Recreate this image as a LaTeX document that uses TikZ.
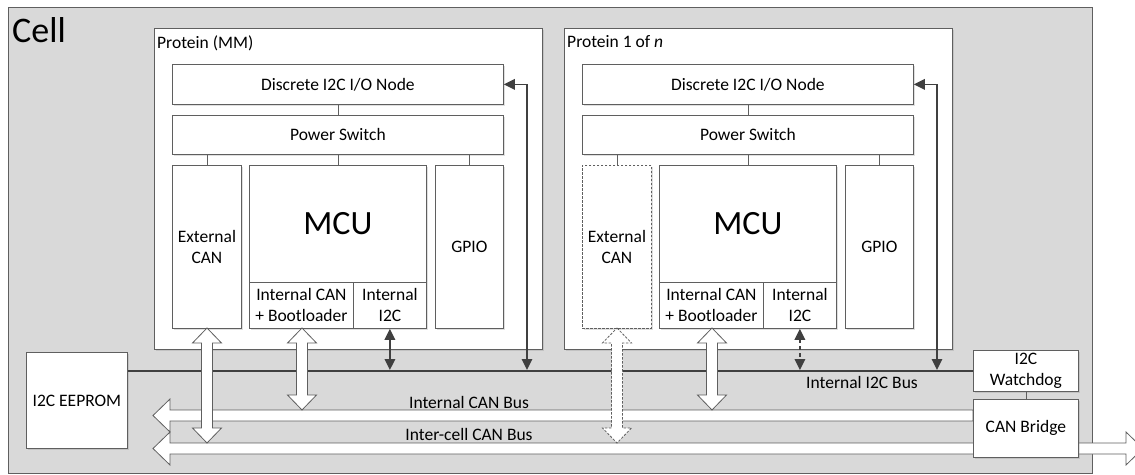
\documentclass[tikz,border=0pt]{standalone}
\usepackage{fontspec}
\setmainfont{Carlito}
\usetikzlibrary{arrows.meta,shadows}

\definecolor{cellgray}{HTML}{D9D9D9}
\definecolor{edgegray}{HTML}{5F5F5F}
\definecolor{busdark}{HTML}{404040}

\newcommand{\cellfont}{\fontsize{36}{40}\selectfont}
\newcommand{\mcufont}{\fontsize{34}{38}\selectfont}

% hollow double arrow between a block and a CAN bus
\newcommand{\canlink}[4][]{%
  \draw[hollow,#1] (#2,#3) -- ++(14.5,15) -- ++(-9,0) -- (#2+5.5,#4-15) -- ++(9,0)
    -- (#2,#4) -- ++(-14.5,-15) -- ++(9,0) -- (#2-5.5,#3+15) -- ++(-9,0) -- cycle;}

\tikzset{
  block/.style={draw=edgegray, fill=white, line width=0.8pt, align=center, inner sep=0pt,
    drop shadow={shadow xshift=1.2pt, shadow yshift=-1.2pt, opacity=0.25}},
  dashedge/.style={dash pattern=on 2.5pt off 1.5pt},
  dashbus/.style={dash pattern=on 4pt off 3pt},
  tie/.style={draw=edgegray, line width=0.8pt},
  hollow/.style={draw=edgegray, fill=white, line width=0.8pt, line join=miter},
  i2cline/.style={draw=busdark, line width=1.6pt},
  i2carrow/.style={i2cline, {Triangle[length=11pt,width=10.5pt]}-{Triangle[length=11pt,width=10.5pt]}},
}

\begin{document}
\begin{tikzpicture}[x=1pt, y=-1pt, font=\fontsize{17.5}{21}\selectfont]
\useasboundingbox (0,0) rectangle (1135,474);

% the cell
\draw[draw=edgegray, fill=cellgray, line width=0.8pt] (8,7) rectangle (1092,473);
\node[anchor=north west, inner sep=0pt, font=\cellfont] (celltitle) at (12,17) {Cell};

% I2C side of the cell
\node[block, anchor=north west, minimum width=101pt, minimum height=96pt] (eeprom) at (26,352) {I2C EEPROM};
\node[block, anchor=north west, minimum width=105pt, minimum height=41pt] (wdog) at (973,350) {I2C\\Watchdog};
\draw[i2cline] (wdog.west) -- (wdog.west -| eeprom.east);
\node (i2cbus) at (862,382) {Internal I2C Bus};

% CAN buses
\draw[hollow] (973,410) -- (170,410) -- (170,399) -- (153,415.5) -- (170,432) -- (170,421) -- (973,421) -- cycle;
\draw[hollow] (170,443) -- (170,432) -- (153,448.5) -- (170,465) -- (170,454) -- (1126,454)
  -- (1126,465) -- (1143,448.5) -- (1126,432) -- (1126,443) -- cycle;
\node (canbus) at (469,402) {Internal CAN Bus};
\node (icbus) at (469,434) {Inter-cell CAN Bus};
\node[block, anchor=north west, minimum width=105pt, minimum height=58pt] (bridge) at (973,399) {CAN Bridge};
\draw[tie] (wdog) -- (bridge);

% the two proteins
\foreach \p/\dx/\title/\es in {A/0/Protein (MM)/solid, B/410/Protein 1 of \textit{n}/dashedge} {
  \begin{scope}[xshift=\dx]
    \node[block, anchor=north west, minimum width=388pt, minimum height=321pt] (prot\p) at (154,28) {};
    \node[anchor=north west, inner sep=0pt] (title\p) at (157,35) {\title};
    \node[block, anchor=north west, minimum width=331pt, minimum height=40pt] (disc\p) at (172,64) {Discrete I2C I/O Node};
    \node[block, anchor=north west, minimum width=331pt, minimum height=39pt] (pwr\p) at (172,115) {Power Switch};
    \node[block, \es, anchor=north west, minimum width=69pt, minimum height=163pt] (ext\p) at (172,165) {External\\CAN};
    \node[block, anchor=north west, minimum width=177pt, minimum height=117pt, font=\mcufont] (mcu\p) at (249,165) {MCU};
    \node[block, anchor=north west, minimum width=104pt, minimum height=46pt] (ican\p) at (249,282) {Internal CAN\\+ Bootloader};
    \node[block, anchor=north west, minimum width=73pt, minimum height=46pt] (ii2c\p) at (353,282) {Internal\\I2C};
    \node[block, anchor=north west, minimum width=68pt, minimum height=163pt] (gpio\p) at (435,165) {GPIO};
    \draw[tie] (disc\p) -- (pwr\p);
    \draw[tie] (ext\p.north) -- (ext\p.north |- pwr\p.south);
    \draw[tie] (mcu\p.north) -- (mcu\p.north |- pwr\p.south);
    \draw[tie] (gpio\p.north) -- (gpio\p.north |- pwr\p.south);
    % I2C taps
    \coordinate (tap\p) at (527,370);
    \draw[i2carrow] (disc\p.east) -| (tap\p);
  \end{scope}
}
\draw[i2carrow] (ii2cA.south) -- (ii2cA.south |- tapA);
\draw[i2carrow, dashbus] (ii2cB.south) -- (ii2cB.south |- tapB);

% CAN links
\canlink{207}{328}{443}
\canlink{302}{328}{410}
\canlink[dashedge]{617}{328}{443}
\canlink{712}{328}{410}
\end{tikzpicture}
\end{document}
